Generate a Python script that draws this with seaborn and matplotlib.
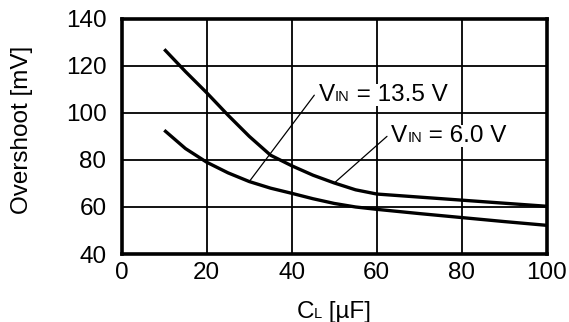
import numpy as np
import pandas as pd
import matplotlib
matplotlib.use("Agg")
import matplotlib.pyplot as plt
import seaborn as sns

# values
cap_uF = [10, 15, 20, 25, 30, 35, 40, 45, 50, 55, 60, 70, 80, 90, 100]
overshoot_hi = [127, 117.5, 108.5, 99, 90, 82, 77.5, 73.5, 70.2, 67.3, 65.5, 64.2, 62.9, 61.6, 60.3]
overshoot_lo = [92.6, 84.8, 79, 74.5, 70.8, 68, 65.8, 63.5, 61.5, 60, 59, 57.2, 55.5, 53.8, 52.2]
x_ticks = [0, 20, 40, 60, 80, 100]
y_ticks = [40, 60, 80, 100, 120, 140]

df = pd.concat([
    pd.DataFrame({"cap": cap_uF, "os": overshoot_hi, "series": "hi"}),
    pd.DataFrame({"cap": cap_uF, "os": overshoot_lo, "series": "lo"}),
])

sns.set_theme(style="white")
plt.rcParams["font.family"] = ["Liberation Sans", "DejaVu Sans"]

FS = 17.5
SUB = 10.5

fig = plt.figure(figsize=(5.69, 3.22), dpi=100)
ax = fig.add_axes([0.214, 0.211, 0.747, 0.731])

sns.lineplot(data=df, x="cap", y="os", units="series", estimator=None,
             color="black", lw=2.4, ax=ax, zorder=4, solid_capstyle="butt")

ax.set_xlim(0, 100)
ax.set_ylim(40, 140)
ax.set_xticks(x_ticks)
ax.set_yticks(y_ticks)
ax.tick_params(length=0, labelsize=FS, colors="black")
ax.tick_params(axis="y", pad=11)
ax.tick_params(axis="x", pad=6)
ax.grid(True, color="black", lw=1.3)
for s in ax.spines.values():
    s.set_color("black")
    s.set_linewidth(2.6)
    s.set_zorder(6)
ax.set_xlabel("")
ax.set_ylabel("")


def chain_text(x, y, parts, transform, box=False):
    """draw text pieces of different sizes on one baseline"""
    desc = 0.21
    kw = dict(color="black", zorder=5)
    if box:
        kw["bbox"] = dict(fc="white", ec="none", pad=0)
    s0, f0 = parts[0]
    prev = ax.text(x, y, s0, fontsize=f0, va="baseline", ha="left",
                   transform=transform, **kw)
    pf = f0
    for s, f in parts[1:]:
        prev = ax.annotate(s, xy=(1, 0), xycoords=prev,
                           xytext=(0, desc * (pf - f)), textcoords="offset points",
                           fontsize=f, va="bottom", ha="left", **kw)
        pf = f


# V_IN labels with leader lines
chain_text(46.4, 105.0, [("V", FS), ("IN", SUB), (" = 13.5 V", FS)], ax.transData, box=True)
ax.annotate("", xy=(cap_uF[4], overshoot_lo[4]), xytext=(45.3, 107.5),
            arrowprops=dict(arrowstyle="-", lw=0.9, color="black", shrinkA=0, shrinkB=0),
            zorder=3)

chain_text(63.4, 87.6, [("V", FS), ("IN", SUB), (" = 6.0 V", FS)], ax.transData, box=True)
ax.annotate("", xy=(cap_uF[8], overshoot_hi[8]), xytext=(62.4, 90.0),
            arrowprops=dict(arrowstyle="-", lw=0.9, color="black", shrinkA=0, shrinkB=0),
            zorder=3)

# axis labels
chain_text(0.411, -0.272, [("C", FS), ("L", SUB), (" [\u00b5F]", FS)], ax.transAxes)
fig.text(0.039, 0.596, "Overshoot [mV]", rotation=90, ha="center", va="center",
         fontsize=FS, color="black")

fig.savefig("out.png", dpi=100)
